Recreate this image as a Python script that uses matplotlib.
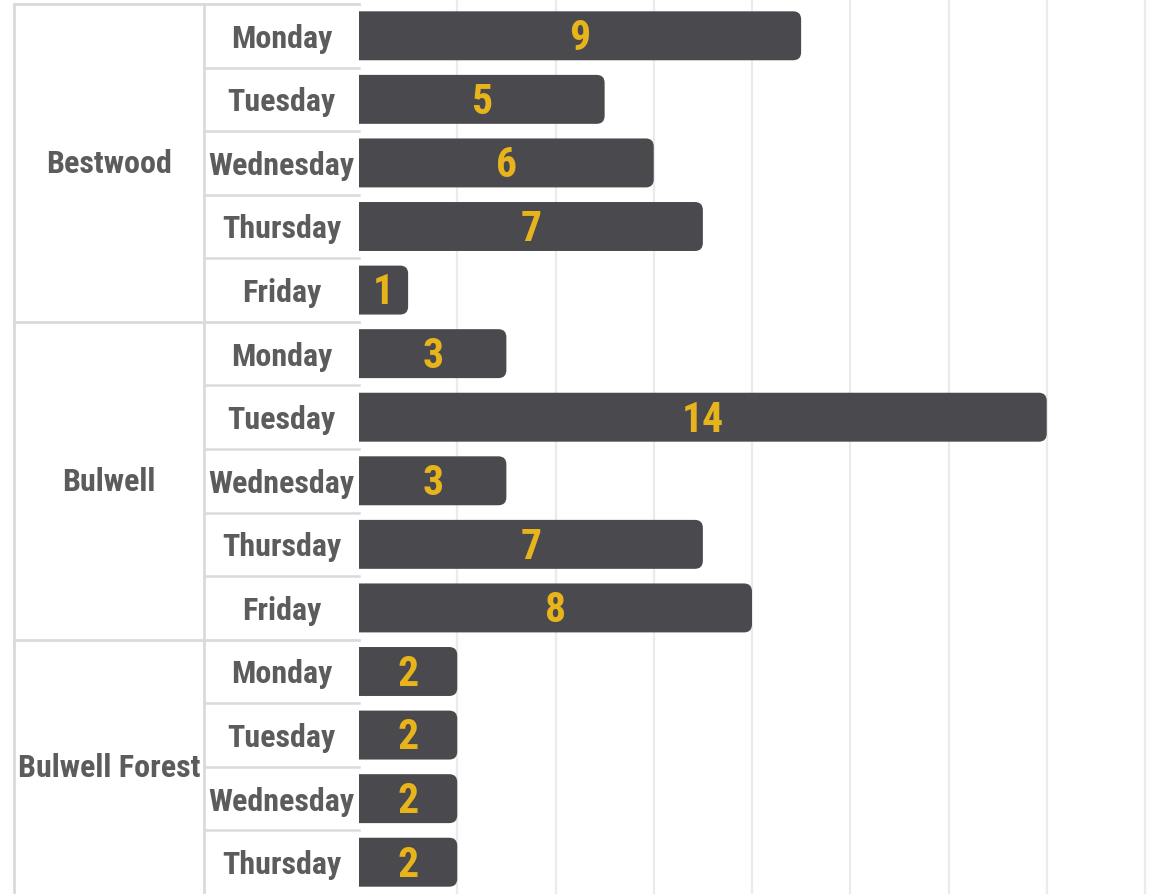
import matplotlib
matplotlib.use("Agg")
import matplotlib.pyplot as plt
from matplotlib.patches import FancyBboxPatch
import numpy as np

groups = ["Bestwood", "Bulwell", "Bulwell Forest"]
days = [["Monday", "Tuesday", "Wednesday", "Thursday", "Friday"],
        ["Monday", "Tuesday", "Wednesday", "Thursday", "Friday"],
        ["Monday", "Tuesday", "Wednesday", "Thursday"]]
values = [[9, 5, 6, 7, 1],
          [3, 14, 3, 7, 8],
          [2, 2, 2, 2]]

bar_color = "#4a4a4e"
num_color = "#e8b41c"
text_color = "#5c5c5c"
table_line = "#dadada"
grid_color = "#ebebeb"
fonts = ["Roboto Condensed", "Liberation Sans Narrow", "DejaVu Sans"]

fig = plt.figure(figsize=(11.51, 8.95), dpi=100)
ax = fig.add_axes([359 / 1151, 0, 786 / 1151, 890 / 895])
ax.set_xlim(0, 16)
ax.set_ylim(13.5, -0.5)
ax.axis("off")

# px per data unit, for rounded corners
ux = 786 / 16
uy = 890 / 14

for x in np.arange(2, 17, 2):
    ax.axvline(x, ymin=0, ymax=1.003, color=grid_color, lw=1.6, zorder=0, clip_on=False)

h = 0.77
x_group = -345 / ux
x_day = -155 / ux
row = 0
for g, name in enumerate(groups):
    start = row
    for day, v in zip(days[g], values[g]):
        # start left of 0 so the axes clip gives a square left edge
        box = FancyBboxPatch((-0.5, row - h / 2), v + 0.5, h,
                             boxstyle="round,pad=0,rounding_size=%.3f" % (8 / ux),
                             mutation_aspect=ux / uy,
                             fc=bar_color, ec="none", zorder=2)
        ax.add_patch(box)
        ax.text(v / 2, row + 0.03, str(v), ha="center", va="center", color=num_color,
                fontsize=30, fontweight="bold", family=fonts, zorder=3)
        ax.text(x_day / 2, row + 0.03, day, ha="center", va="center", color=text_color,
                fontsize=23, fontweight="bold", family=fonts)
        if row > start:
            ax.plot([x_day, 0], [row - 0.5, row - 0.5], color=table_line, lw=1.8, clip_on=False)
        row += 1
    ax.plot([x_group, 0], [start - 0.5, start - 0.5], color=table_line, lw=2, clip_on=False)
    ax.text((x_group + x_day) / 2, (start + row - 1) / 2, name, ha="center", va="center",
            color=text_color, fontsize=23, fontweight="bold", family=fonts)

ax.plot([x_group, x_group], [-0.5, 13.6], color=table_line, lw=2, clip_on=False)
ax.plot([x_day, x_day], [-0.5, 13.6], color=table_line, lw=2, clip_on=False)

fig.savefig("out.png", dpi=100)
